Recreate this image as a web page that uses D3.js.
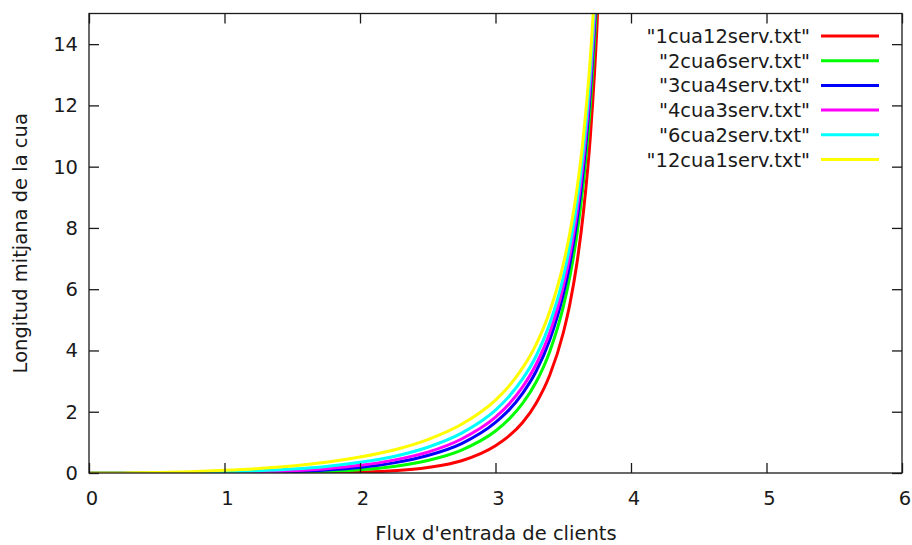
<!DOCTYPE html>
<html>
<head>
<meta charset="utf-8">
<script src="https://cdn.jsdelivr.net/npm/d3@7/dist/d3.min.js"></script>
<style>
  html, body { margin: 0; padding: 0; background: #fff; }
  svg { display: block; }
  text { font-family: "DejaVu Sans", sans-serif; fill: #1a1a1a; }
</style>
</head>
<body>
<svg id="chart" width="912" height="545"></svg>
<script>
// ---- data ----
const xValues = [0, 0.25, 0.5, 0.75, 1, 1.25, 1.5, 1.75, 2, 2.25, 2.5, 2.75, 3, 3.1, 3.2, 3.3, 3.4, 3.5, 3.55, 3.6, 3.65, 3.7, 3.75, 3.8];

const seriesNames = ['"1cua12serv.txt"', '"2cua6serv.txt"', '"3cua4serv.txt"', '"4cua3serv.txt"', '"6cua2serv.txt"', '"12cua1serv.txt"'];
const seriesColors = ["#ff0000", "#00ff00", "#0000ff", "#ff00ff", "#00ffff", "#ffff00"];

const red     = [0, 0, 0, 0, 0, 0.0003, 0.002, 0.007, 0.025, 0.07, 0.18, 0.40, 0.89, 1.21, 1.65, 2.28, 3.19, 4.57, 5.54, 6.82, 8.56, 10.99, 14.69, 20.8];
const green   = [0, 0, 0, 0, 0.002, 0.0065, 0.02, 0.048, 0.106, 0.214, 0.41, 0.75, 1.37, 1.76, 2.27, 2.97, 3.96, 5.42, 6.44, 7.75, 9.53, 12.01, 15.76, 21.8];
const blue    = [0, 0, 0.0002, 0.0015, 0.007, 0.02, 0.047, 0.097, 0.18, 0.33, 0.57, 0.96, 1.65, 2.06, 2.6, 3.32, 4.34, 5.83, 6.86, 8.2, 9.99, 12.49, 16.25, 22.3];
const magenta = [0, 0, 0.0006, 0.004, 0.015, 0.037, 0.076, 0.142, 0.25, 0.42, 0.68, 1.11, 1.82, 2.25, 2.81, 3.55, 4.58, 6.09, 7.13, 8.47, 10.27, 12.77, 16.54, 22.7];
const cyan    = [0, 0.0005, 0.004, 0.014, 0.035, 0.07, 0.128, 0.215, 0.35, 0.54, 0.84, 1.30, 2.05, 2.50, 3.07, 3.82, 4.87, 6.39, 7.45, 8.8, 10.61, 13.12, 16.94, 23.0];
const yellow  = [0, 0.004, 0.018, 0.044, 0.086, 0.146, 0.232, 0.35, 0.52, 0.75, 1.09, 1.59, 2.38, 2.84, 3.43, 4.2, 5.27, 6.81, 7.87, 9.23, 11.05, 13.57, 17.4, 23.5];

const seriesValues = [red, green, blue, magenta, cyan, yellow];

const xTicks = [0, 1, 2, 3, 4, 5, 6];
const yTicks = [0, 2, 4, 6, 8, 10, 12, 14];

const xTitle = "Flux d'entrada de clients";
const yTitle = "Longitud mitjana de la cua";

// ---- layout ----
const W = 912, H = 545;
const plot = { left: 89, right: 902, top: 13.5, bottom: 473 };
const svg = d3.select("#chart");
svg.append("rect").attr("width", W).attr("height", H).attr("fill", "#fff");

const x = d3.scaleLinear().domain([0, 6]).range([plot.left, plot.right]);
const y = d3.scaleLinear().domain([0, 15]).range([plot.bottom, plot.top]);

svg.append("clipPath").attr("id", "clip")
  .append("rect")
  .attr("x", plot.left).attr("y", plot.top)
  .attr("width", plot.right - plot.left).attr("height", plot.bottom - plot.top);

// ---- curves ----
const line = d3.line()
  .x((d) => x(d[0]))
  .y((d) => y(d[1]))
  .curve(d3.curveMonotoneX);

const gLines = svg.append("g").attr("clip-path", "url(#clip)");
seriesValues.forEach((vals, i) => {
  const pts = xValues.map((xv, j) => [xv, vals[j]]);
  gLines.append("path")
    .attr("d", line(pts))
    .attr("fill", "none")
    .attr("stroke", seriesColors[i])
    .attr("stroke-width", 3)
    .attr("stroke-linejoin", "round");
});

// ---- axes (gnuplot style: inward ticks, mirrored) ----
const axisColor = "#1a1a1a";
const tickLen = 10;
const fontSize = 19.5;

const gAx = svg.append("g");
const bottomAxis = d3.axisBottom(x).tickValues(xTicks).tickSize(-tickLen).tickFormat("");
const topAxis = d3.axisTop(x).tickValues(xTicks).tickSize(-tickLen).tickFormat("");
const leftAxis = d3.axisLeft(y).tickValues(yTicks).tickSize(-tickLen).tickFormat("");
const rightAxis = d3.axisRight(y).tickValues(yTicks).tickSize(-tickLen).tickFormat("");

function styleAxis(g) {
  g.select(".domain").remove();
  g.selectAll(".tick line").attr("stroke", axisColor).attr("stroke-width", 1.3);
}
gAx.append("g").attr("transform", `translate(0,${plot.bottom})`).call(bottomAxis).call(styleAxis);
gAx.append("g").attr("transform", `translate(0,${plot.top})`).call(topAxis).call(styleAxis);
gAx.append("g").attr("transform", `translate(${plot.left},0)`).call(leftAxis).call(styleAxis);
gAx.append("g").attr("transform", `translate(${plot.right},0)`).call(rightAxis).call(styleAxis);

// border
svg.append("rect")
  .attr("x", plot.left).attr("y", plot.top)
  .attr("width", plot.right - plot.left).attr("height", plot.bottom - plot.top)
  .attr("fill", "none").attr("stroke", axisColor).attr("stroke-width", 1.3);

// tick labels
svg.append("g").selectAll("text").data(xTicks).join("text")
  .attr("x", (d) => x(d) + 3)
  .attr("y", plot.bottom + 32)
  .attr("text-anchor", "middle")
  .attr("font-size", fontSize)
  .text((d) => d);

svg.append("g").selectAll("text").data(yTicks).join("text")
  .attr("x", plot.left - 11)
  .attr("y", (d) => y(d) + 7)
  .attr("text-anchor", "end")
  .attr("font-size", fontSize)
  .text((d) => d);

// axis titles
svg.append("text")
  .attr("x", 496).attr("y", 540)
  .attr("text-anchor", "middle")
  .attr("font-size", fontSize)
  .text(xTitle);

svg.append("text")
  .attr("transform", `translate(27,${(plot.top + plot.bottom) / 2}) rotate(-90)`)
  .attr("text-anchor", "middle")
  .attr("font-size", fontSize)
  .text(yTitle);

// ---- legend ----
const legend = svg.append("g");
seriesNames.forEach((name, i) => {
  const cy = 36 + i * 24.7;
  legend.append("text")
    .attr("x", 810)
    .attr("y", cy + 7)
    .attr("text-anchor", "end")
    .attr("font-size", fontSize)
    .text(name);
  legend.append("line")
    .attr("x1", 821).attr("x2", 879)
    .attr("y1", cy).attr("y2", cy)
    .attr("stroke", seriesColors[i])
    .attr("stroke-width", 3);
});
</script>
</body>
</html>
